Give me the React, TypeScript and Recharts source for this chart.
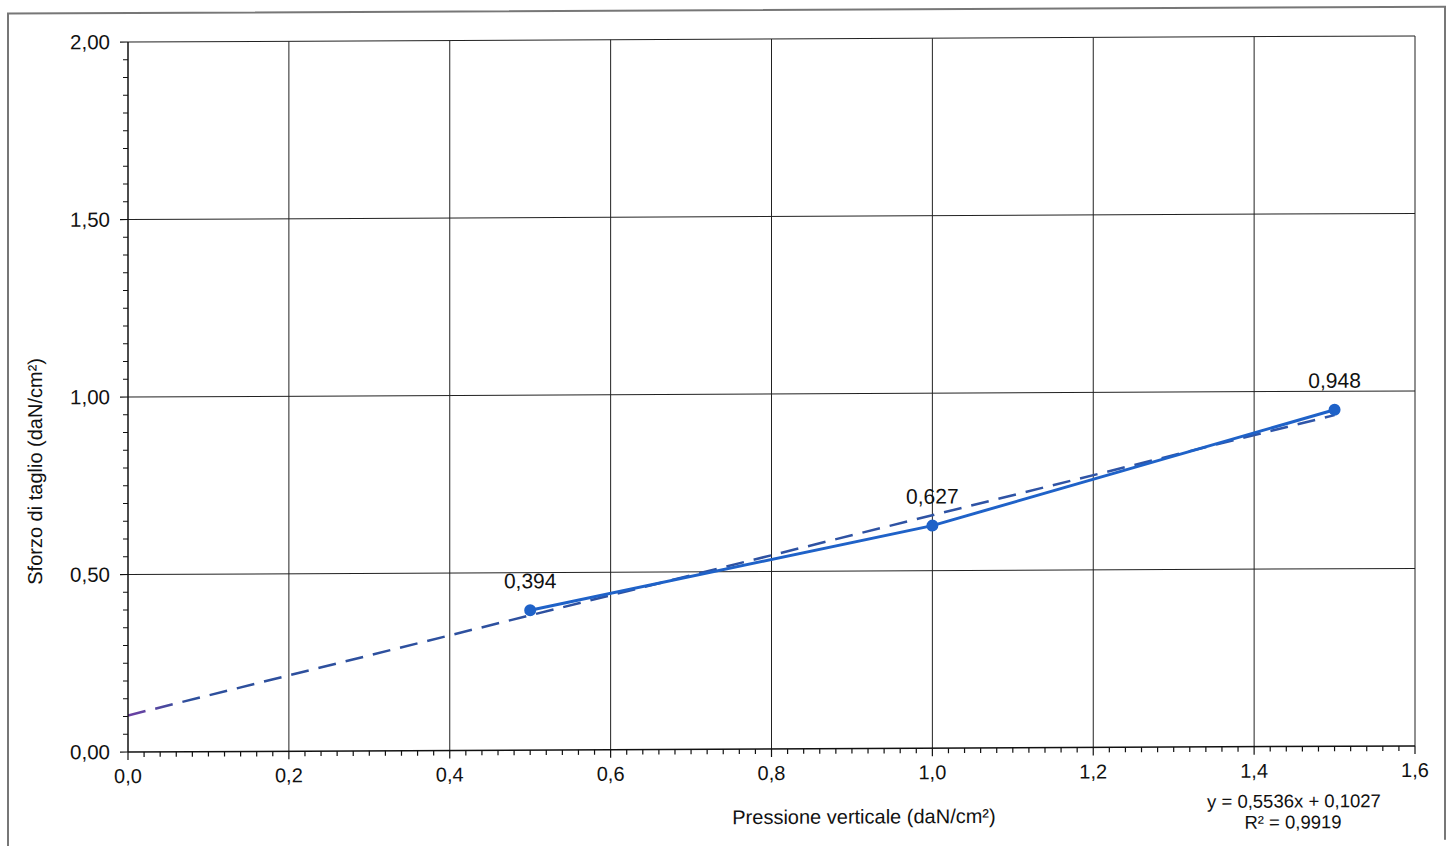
import React from 'react';
import { LineChart, Line, XAxis, YAxis, ReferenceLine, LabelList } from 'recharts';

// measured points (pressione verticale / sforzo di taglio)
const pressione = [0.5, 1.0, 1.5];
const sforzo = [0.394, 0.627, 0.948];

// linear trendline end points, as drawn
const trendX = [0, 1.5];
const trendY = [0.103, 0.933];

const xMajor = [0, 0.2, 0.4, 0.6, 0.8, 1.0, 1.2, 1.4, 1.6];
const yMajor = [0, 0.5, 1.0, 1.5, 2.0];
// minor ticks: every 0.02 on x, every 0.05 on y
const xTicks = Array.from({ length: 81 }, (_, i) => Math.round(i * 2) / 100);
const yTicks = Array.from({ length: 41 }, (_, i) => Math.round(i * 5) / 100);

const points = pressione.map((x, i) => ({ x, y: sforzo[i] }));
const trend = trendX.map((x, i) => ({ x, y: trendY[i] }));

const FONT = '"Liberation Sans", Arial, sans-serif';
const comma = (v: number, d: number) => v.toFixed(d).replace('.', ',');
const isMajor = (v: number, list: number[]) => list.some((m) => Math.abs(m - v) < 1e-6);

const XTick = ({ x, y, payload }: any) => {
  const major = isMajor(payload.value, xMajor);
  return (
    <g>
      <line x1={x} x2={x} y1={y} y2={y + (major ? 8 : 5)} stroke="#111" strokeWidth={1.2} />
      {major && (
        <text x={x} y={y + 31} textAnchor="middle" fontSize={20} fontFamily={FONT} fill="#111">
          {comma(payload.value, 1)}
        </text>
      )}
    </g>
  );
};

const YTick = ({ x, y, payload }: any) => {
  const major = isMajor(payload.value, yMajor);
  return (
    <g>
      <line x1={x - (major ? 8 : 5)} x2={x} y1={y} y2={y} stroke="#111" strokeWidth={1.2} />
      {major && (
        <text x={x - 18} y={y + 7} textAnchor="end" fontSize={20.5} fontFamily={FONT} fill="#111">
          {comma(payload.value, 2)}
        </text>
      )}
    </g>
  );
};

const xTexts = () => (
  <g fontFamily={FONT} fill="#111">
    <text x={864} y={827} textAnchor="middle" fontSize={20}>
      Pressione verticale (daN/cm²)
    </text>
    <text x={1294} y={813} textAnchor="middle" fontSize={18.5}>
      y = 0,5536x + 0,1027
    </text>
    <text x={1293} y={834} textAnchor="middle" fontSize={18.5}>
      R² = 0,9919
    </text>
  </g>
);

const yTexts = () => (
  <text
    x={37}
    y={471}
    transform="rotate(-90 37 471)"
    textAnchor="middle"
    dominantBaseline="middle"
    fontSize={20}
    fontFamily={FONT}
    fill="#111"
  >
    Sforzo di taglio (daN/cm²)
  </text>
);

const pointLabel = ({ x, y, value }: any) => (
  <text x={x} y={y - 22} textAnchor="middle" fontSize={21} fontFamily={FONT} fill="#111">
    {comma(value, 3)}
  </text>
);

export default function App() {
  return (
    <div
      style={{
        position: 'absolute',
        left: 0,
        top: 0,
        width: 1453,
        height: 846,
        background: '#fff',
        overflow: 'hidden',
        transform: 'skewY(-0.27deg)',
        transformOrigin: '128px 0px',
      }}
    >
      {/* outer frame of the scanned chart */}
      <div
        style={{
          position: 'absolute',
          left: 7,
          top: 12,
          width: 1435,
          height: 860,
          border: '2px solid #777',
        }}
      />
      <div style={{ position: 'absolute', left: 0, top: 0 }}>
        <LineChart width={1453} height={846} margin={{ top: 42, right: 38, bottom: 34, left: 28 }}>
          <defs>
            <linearGradient id="trendFade" x1="0" y1="0" x2="1" y2="0">
              <stop offset="0" stopColor="#6b3fa3" />
              <stop offset="0.02" stopColor="#5a45a0" />
              <stop offset="0.05" stopColor="#2d4f9c" />
              <stop offset="1" stopColor="#2f55a8" />
            </linearGradient>
          </defs>
          <XAxis
            type="number"
            dataKey="x"
            domain={[0, 1.6]}
            ticks={xTicks}
            interval={0}
            tickSize={0}
            tickMargin={0}
            tickLine={false}
            tick={XTick}
            axisLine={{ stroke: '#111', strokeWidth: 1.5 }}
            height={60}
            allowDataOverflow
            label={xTexts}
          />
          <YAxis
            type="number"
            dataKey="y"
            domain={[0, 2]}
            ticks={yTicks}
            interval={0}
            tickSize={0}
            tickMargin={0}
            tickLine={false}
            tick={YTick}
            axisLine={{ stroke: '#111', strokeWidth: 1.5 }}
            width={100}
            allowDataOverflow
            label={yTexts}
          />
          {xMajor.slice(1).map((v) => (
            <ReferenceLine key={'gx' + v} x={v} stroke="#222" strokeWidth={1} />
          ))}
          {yMajor.slice(1).map((v) => (
            <ReferenceLine key={'gy' + v} y={v} stroke="#222" strokeWidth={1} />
          ))}
          <Line
            data={trend}
            dataKey="y"
            type="linear"
            stroke="url(#trendFade)"
            strokeWidth={2.5}
            strokeDasharray="18 10"
            dot={false}
            isAnimationActive={false}
          />
          <Line
            data={points}
            dataKey="y"
            type="linear"
            stroke="#1f62c8"
            strokeWidth={3}
            dot={{ r: 4.5, fill: '#1f62c8', stroke: '#1f62c8' }}
            isAnimationActive={false}
          >
            <LabelList dataKey="y" content={pointLabel} />
          </Line>
        </LineChart>
      </div>
    </div>
  );
}
